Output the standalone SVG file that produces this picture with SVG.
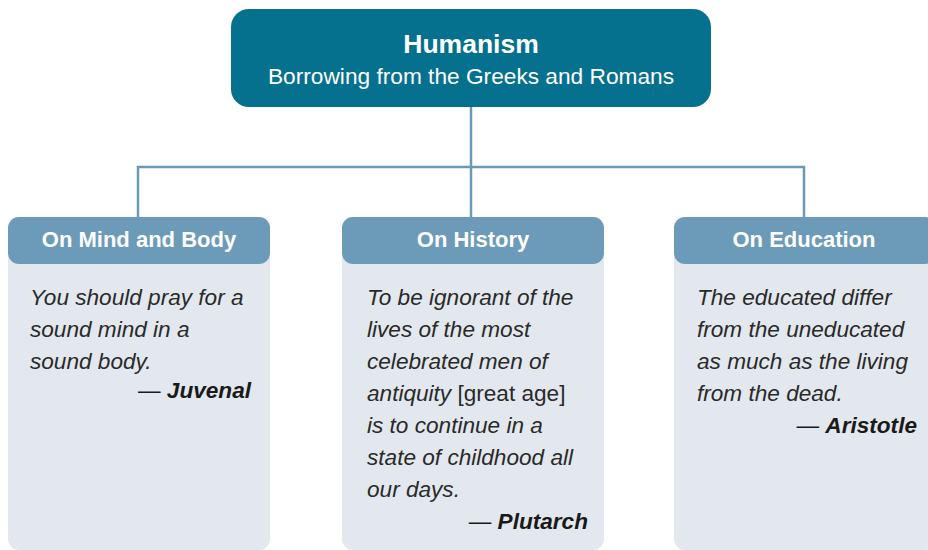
<svg xmlns="http://www.w3.org/2000/svg" width="928" height="550" viewBox="0 0 928 550">
<style>
.body{fill:#e3e8ee}
.head{fill:#6b9bb9}
.ht{font-family:"Liberation Sans",Arial,sans-serif;font-weight:bold;font-size:22px;fill:#fff;text-anchor:middle}
.q{font-family:"Liberation Sans",Arial,sans-serif;font-style:italic;font-size:22.6px;fill:#2a2a2a}
.r{font-style:normal}
.a{font-family:"Liberation Sans",Arial,sans-serif;font-size:22.6px;fill:#1a1a1a;text-anchor:end}
.a tspan.n{font-weight:bold;font-style:italic}
.con{fill:none;stroke:#6b9ab8;stroke-width:2.5}
</style>
<rect width="928" height="550" fill="#fff"/>
<g id="connectors">
<path class="con" d="M471 107V167M138 217V167H804V217M471 167V217"/>
</g>
<g id="humanism">
<rect x="231" y="9" width="480" height="98" rx="18" fill="#06708f"/>
<text x="471" y="53" font-family="'Liberation Sans',Arial,sans-serif" font-weight="bold" font-size="26.5" fill="#fff" text-anchor="middle">Humanism</text>
<text x="471" y="84" font-family="'Liberation Sans',Arial,sans-serif" font-size="22.7" fill="#fff" text-anchor="middle">Borrowing from the Greeks and Romans</text>
</g>
<g id="mind-body">
<rect class="body" x="8" y="217" width="262" height="333" rx="11"/>
<rect class="head" x="8" y="217" width="262" height="47" rx="11"/>
<text class="ht" x="139" y="247">On Mind and Body</text>
<text class="q" x="30" y="305">You should pray for a</text>
<text class="q" x="30" y="337">sound mind in a</text>
<text class="q" x="30" y="369">sound body.</text>
<text class="a" x="251" y="398">— <tspan class="n">Juvenal</tspan></text>
</g>
<g id="history">
<rect class="body" x="342" y="217" width="262" height="333" rx="11"/>
<rect class="head" x="342" y="217" width="262" height="47" rx="11"/>
<text class="ht" x="473" y="247">On History</text>
<text class="q" x="367" y="305">To be ignorant of the</text>
<text class="q" x="367" y="337">lives of the most</text>
<text class="q" x="367" y="369">celebrated men of</text>
<text class="q" x="367" y="401">antiquity <tspan class="r">[great age]</tspan></text>
<text class="q" x="367" y="433">is to continue in a</text>
<text class="q" x="367" y="465">state of childhood all</text>
<text class="q" x="367" y="497">our days.</text>
<text class="a" x="588" y="529">— <tspan class="n">Plutarch</tspan></text>
</g>
<g id="education">
<rect class="body" x="674" y="217" width="262" height="333" rx="11"/>
<rect class="head" x="674" y="217" width="262" height="47" rx="11"/>
<text class="ht" x="804" y="247">On Education</text>
<text class="q" x="697" y="305">The educated differ</text>
<text class="q" x="697" y="337">from the uneducated</text>
<text class="q" x="697" y="369">as much as the living</text>
<text class="q" x="697" y="401">from the dead.</text>
<text class="a" x="917" y="433">— <tspan class="n">Aristotle</tspan></text>
</g>
</svg>
